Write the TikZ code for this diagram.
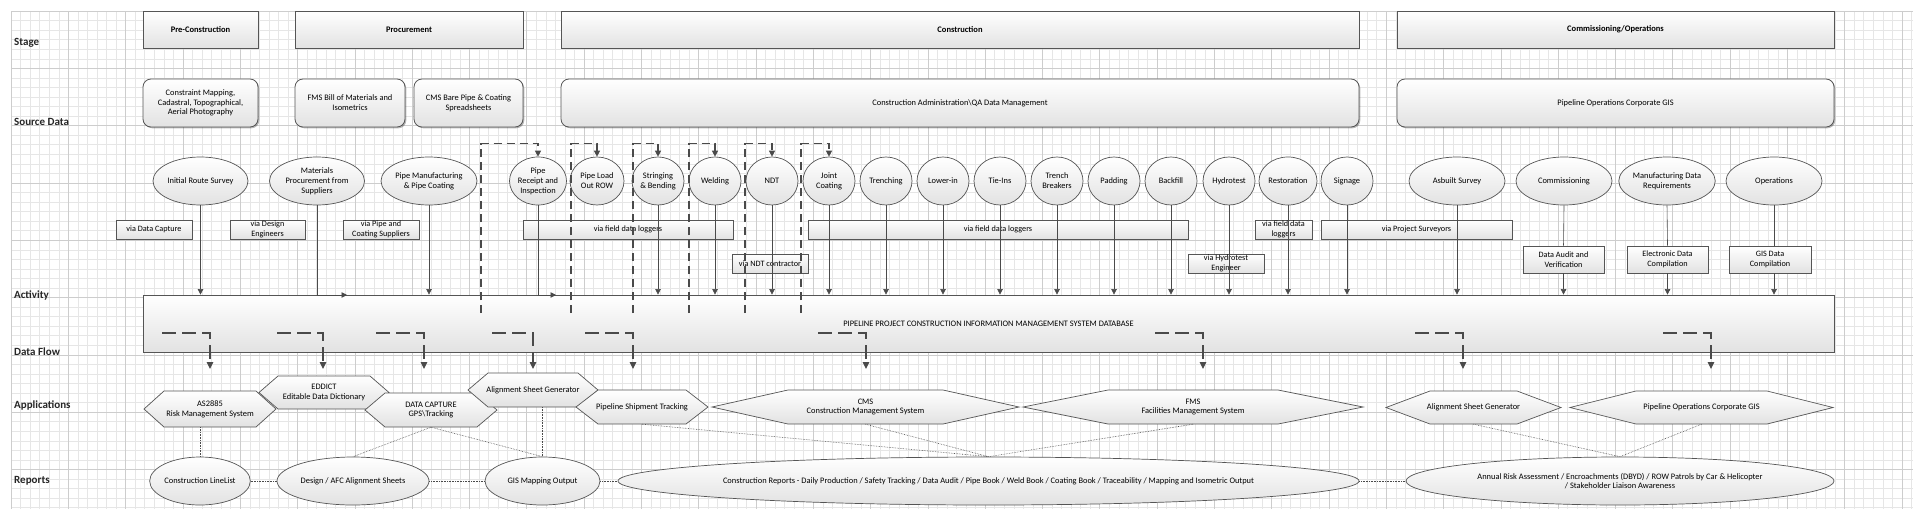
\documentclass[tikz,border=0pt]{standalone}
\usepackage{fontspec}
\setmainfont{Carlito}
\usetikzlibrary{arrows.meta,shadows,shapes.geometric}
\definecolor{linec}{HTML}{4A4A4A}
\definecolor{boxc}{HTML}{555555}
\definecolor{gridminor}{HTML}{E6E6E6}
\definecolor{gridmajor}{HTML}{CDCDCD}
\definecolor{fillbot}{HTML}{E2E2E2}
\newcommand\dgfont{\fontsize{8.4}{9.8}\selectfont}
\newcommand\hexapp[7]{%
  \path[hexshape] ({#2-#4/2},#3) -- ({#2-#4/2+#6},{#3-#5/2}) -- ({#2+#4/2-#6},{#3-#5/2}) -- ({#2+#4/2},#3) -- ({#2+#4/2-#6},{#3+#5/2}) -- ({#2-#4/2+#6},{#3+#5/2}) -- cycle;
  \node[hextext, minimum width=#4pt, minimum height=#5pt] (#1) at (#2,#3) {#7};
}
\begin{document}
\begin{tikzpicture}[x=1pt,y=-1pt,
  shade/.style={top color=white, bottom color=fillbot},
  shad/.style={drop shadow={shadow xshift=1.3pt,shadow yshift=-1.3pt,fill=black,opacity=0.28}},
  stagebox/.style={rectangle, draw=boxc, line width=0.8pt, shade, shad, inner sep=0pt, minimum height=37pt, font=\bfseries\fontsize{8.5}{10}\selectfont},
  srcbox/.style={rectangle, rounded corners=8pt, draw=boxc, line width=0.8pt, shade, shad, inner sep=0pt, minimum height=48pt, align=center, font=\dgfont},
  act/.style={ellipse, draw=boxc, line width=0.7pt, shade, inner sep=0pt, minimum height=48pt, align=center, font=\dgfont},
  via/.style={rectangle, draw=boxc, line width=0.7pt, shade, shad, inner sep=0pt, minimum height=19pt, align=center, font=\fontsize{8.2}{9.4}\selectfont},
  dbbox/.style={rectangle, draw=boxc, line width=0.8pt, shade, shad, inner sep=0pt, font=\dgfont},
  rep/.style={ellipse, draw=boxc, line width=0.7pt, shade, inner sep=0pt, minimum height=48pt, align=center, font=\dgfont},
  hexshape/.style={draw=boxc, line width=0.7pt, shade},
  hextext/.style={rectangle, inner sep=0pt, align=center, font=\dgfont},
  rowlab/.style={anchor=west, inner sep=0pt, font=\bfseries\fontsize{11}{13}\selectfont, text=black!85},
  ln/.style={draw=linec, line width=0.6pt},
  arr/.style={ln, -{Triangle[width=5.5pt,length=5.5pt]}},
  fbarr/.style={draw=linec, line width=1.1pt, dash pattern=on 8pt off 5pt, -{Triangle[width=6pt,length=6pt]}},
  dfarr/.style={draw=linec, line width=1.2pt, dash pattern=on 14pt off 6pt, -{Triangle[width=6.5pt,length=7pt]}},
  dotl/.style={draw=linec, line width=0.6pt, densely dotted}
]
\useasboundingbox (0,0) rectangle (1913,509);
\fill[white] (0,0) rectangle (1913,509);
% grid
\foreach \i in {0,...,199} \draw[gridminor, line width=0.5pt] ({11+9.55*\i},11) -- ({11+9.55*\i},509);
\foreach \j in {0,...,52} \draw[gridminor, line width=0.5pt] (11,{11+9.55*\j}) -- (1913,{11+9.55*\j});
\foreach \i in {0,6,...,198} \draw[gridmajor, line width=0.5pt] ({11+9.55*\i},11) -- ({11+9.55*\i},509);
\foreach \j in {0,6,...,52} \draw[gridmajor, line width=0.5pt] (11,{11+9.55*\j}) -- (1913,{11+9.55*\j});

% row labels
\node[rowlab] (lstage) at (14,43) {Stage};
\node[rowlab] (lsrc) at (14,122) {Source Data};
\node[rowlab] (lact) at (14,295) {Activity};
\node[rowlab] (lflow) at (14,352) {Data Flow};
\node[rowlab] (lapp) at (14,405) {Applications};
\node[rowlab] (lrep) at (14,481) {Reports};

% stages
\node[stagebox, minimum width=115pt] (st1) at (200.5,29.5) {Pre-Construction};
\node[stagebox, minimum width=228pt] (st2) at (409,29.5) {Procurement};
\node[stagebox, minimum width=798pt] (st3) at (960,29.5) {Construction};
\node[stagebox, minimum width=437pt] (st4) at (1615.5,29.5) {Commissioning/Operations};

% source data
\node[srcbox, minimum width=115pt] (sd1) at (200.5,103) {Constraint Mapping,\\Cadastral, Topographical,\\Aerial Photography};
\node[srcbox, minimum width=110pt] (sd2) at (350,103) {FMS Bill of Materials and\\Isometrics};
\node[srcbox, minimum width=109pt] (sd3) at (468.5,103) {CMS Bare Pipe \& Coating\\Spreadsheets};
\node[srcbox, minimum width=798pt] (sd4) at (960,103) {Construction Administration\textbackslash QA Data Management};
\node[srcbox, minimum width=437pt] (sd5) at (1615.5,103) {Pipeline Operations Corporate GIS};

% via labels (under the lines)
\node[via, minimum width=76pt] (v1) at (154,229.5) {via Data Capture};
\node[via, minimum width=75pt] (v2) at (267.5,229.5) {via Design\\Engineers};
\node[via, minimum width=76pt] (v3) at (381,229.5) {via Pipe and\\Coating Suppliers};
\node[via, minimum width=210pt] (v4) at (628,229.5) {via field data loggers};
\node[via, minimum width=76pt] (v5) at (770,263.5) {via NDT contractor};
\node[via, minimum width=380pt] (v6) at (998,229.5) {via field data loggers};
\node[via, minimum width=76pt] (v7) at (1226,263.5) {via Hydrotest\\Engineer};
\node[via, minimum width=57pt] (v8) at (1283.5,229.5) {via field data\\loggers};
\node[via, minimum width=191pt] (v9) at (1416.5,229.5) {via Project Surveyors};
\node[via, minimum width=81pt, minimum height=27pt] (v10) at (1563.5,259.5) {Data Audit and\\Verification};
\node[via, minimum width=81pt, minimum height=27pt] (v11) at (1667.5,259.5) {Electronic Data\\Compilation};
\node[via, minimum width=82pt, minimum height=27pt] (v12) at (1770,259.5) {GIS Data\\Compilation};

% database
\node[dbbox, minimum width=1691pt, minimum height=57pt] (db) at (988.5,323.5) {PIPELINE PROJECT CONSTRUCTION INFORMATION MANAGEMENT SYSTEM DATABASE};

% activities
\node[act, minimum width=95pt] (irs) at (200.5,181) {Initial Route Survey};
\node[act, minimum width=95pt] (mps) at (317,181) {Materials\\Procurement from\\Suppliers};
\node[act, minimum width=96pt] (pmc) at (429,181) {Pipe Manufacturing\\\& Pipe Coating};
\node[act, minimum width=57pt] (pri) at (538,181) {Pipe\\Receipt and\\Inspection};
\node[act, minimum width=54pt] (plo) at (597,181) {Pipe Load\\Out ROW};
\node[act, minimum width=52pt] (sb) at (658,181) {Stringing\\\& Bending};
\node[act, minimum width=52pt] (wel) at (715,181) {Welding};
\node[act, minimum width=52pt] (ndt) at (772,181) {NDT};
\node[act, minimum width=52pt] (jc) at (829,181) {Joint\\Coating};
\node[act, minimum width=52pt] (tr) at (886,181) {Trenching};
\node[act, minimum width=52pt] (li) at (943,181) {Lower-in};
\node[act, minimum width=52pt] (ti) at (1000,181) {Tie-Ins};
\node[act, minimum width=52pt] (tb) at (1057,181) {Trench\\Breakers};
\node[act, minimum width=52pt] (pad) at (1114,181) {Padding};
\node[act, minimum width=52pt] (bf) at (1171,181) {Backfill};
\node[act, minimum width=52pt] (hy) at (1229,181) {Hydrotest};
\node[act, minimum width=58pt] (res) at (1288,181) {Restoration};
\node[act, minimum width=52pt] (sig) at (1347,181) {Signage};
\node[act, minimum width=96pt] (abs) at (1457,181) {Asbuilt Survey};
\node[act, minimum width=96pt] (com) at (1564,181) {Commissioning};
\node[act, minimum width=95pt] (mdr) at (1667,181) {Manufacturing Data\\Requirements};
\node[act, minimum width=96pt] (ops) at (1774,181) {Operations};

% activity -> database
\foreach \n in {irs,pmc,sb,wel,ndt,jc,tr,li,ti,tb,pad,bf,hy,res,sig,abs}
  \draw[arr] (\n.south) -- (\n.south |- db.north);
\coordinate (mpsend) at (347,295);
\coordinate (priend) at (556,295);
\draw[arr] (mps.south) |- (mpsend);
\draw[arr] (pri.south) |- (priend);
\draw[ln] (com.south) -- (v10.north);
\draw[arr] (v10.south) -- (v10.south |- db.north);
\draw[ln] (mdr.south) -- (v11.north);
\draw[arr] (v11.south) -- (v11.south |- db.north);
\draw[ln] (ops.south) -- (ops.south |- v12.north);
\draw[arr] (ops.south |- v12.south) -- (ops.south |- db.north);

% feedback loops
\coordinate (fb1) at (481,313);
\coordinate (fb2) at (571,313);
\coordinate (fb3) at (633,313);
\coordinate (fb4) at (689,313);
\coordinate (fb5) at (745,313);
\coordinate (fb6) at (801,313);
\draw[fbarr] (fb1) |- ([yshift=13pt]pri.north) -- (pri.north);
\draw[fbarr] (fb2) |- ([yshift=13pt]plo.north) -- (plo.north);
\draw[fbarr] (fb3) |- ([yshift=13pt]sb.north) -- (sb.north);
\draw[fbarr] (fb4) |- ([yshift=13pt]wel.north) -- (wel.north);
\draw[fbarr] (fb5) |- ([yshift=13pt]ndt.north) -- (ndt.north);
\draw[fbarr] (fb6) |- ([yshift=13pt]jc.north) -- (jc.north);

% data flow
\foreach \xs/\xe [count=\k] in {162/210,277/323,376/424,492/533,585/633,818/866,1155/1203,1415/1463,1663/1711}{
  \coordinate (dfs\k) at (\xs,333);
  \coordinate (dfe\k) at (\xe,369);
  \draw[dfarr] (dfs\k) -| (dfe\k);
}

% applications
\hexapp{as}{210}{409}{132}{36}{20}{AS2885\\Risk Management System}
\hexapp{ed}{324}{392.5}{130}{33}{19}{EDDICT\\Editable Data Dictionary}
\hexapp{dc}{431}{410}{132}{34}{20}{DATA CAPTURE\\GPS\textbackslash Tracking}
\hexapp{asg}{533}{390}{130}{34}{20}{Alignment Sheet Generator}
\hexapp{pst}{642}{407}{132}{34}{22}{Pipeline Shipment Tracking}
\hexapp{cms}{865.5}{407}{307}{34}{76}{CMS\\Construction Management System}
\hexapp{fms}{1193}{407}{340}{34}{85}{FMS\\Facilities Management System}
\hexapp{asgb}{1473.5}{407.5}{175}{33}{44}{Alignment Sheet Generator}
\hexapp{pog}{1701.5}{407.5}{263}{33}{66}{Pipeline Operations Corporate GIS}

% reports
\node[rep, minimum width=94pt] (ll) at (200,481) {Construction LineList};
\node[rep, minimum width=152pt] (afc) at (353,481) {Design / AFC Alignment Sheets};
\node[rep, minimum width=115pt] (gis) at (542.5,481) {GIS Mapping Output};
\node[rep, minimum width=741pt] (cr) at (988.5,481) {\makebox[0pt]{Construction Reports - Daily Production / Safety Tracking / Data Audit / Pipe Book / Weld Book / Coating Book / Traceability / Mapping and Isometric Output}};
\node[rep, minimum width=428pt] (ar) at (1620,481) {Annual Risk Assessment / Encroachments (DBYD) / ROW Patrols by Car \& Helicopter\\/ Stakeholder Liaison Awareness};

% dotted links
\draw[dotl] (ll.north) -- (ll.north |- as.south);
\draw[dotl] (ll.east) -- (afc.west);
\draw[dotl] (afc.east) -- (gis.west);
\draw[dotl] (gis.east) -- (cr.west);
\draw[dotl] (cr.east) -- (ar.west);
\draw[dotl] (dc.south) -- (afc.north);
\draw[dotl] (dc.south) -- (gis.north);
\draw[dotl] (gis.north |- asg.south) -- (gis.north);
\draw[dotl] (pst.south) -- (cr.north);
\draw[dotl] (cms.south) -- (cr.north);
\draw[dotl] (fms.south) -- (cr.north);
\draw[dotl] (asgb.south) -- (ar.north);
\draw[dotl] (pog.south) -- (ar.north);
\end{tikzpicture}
\end{document}
